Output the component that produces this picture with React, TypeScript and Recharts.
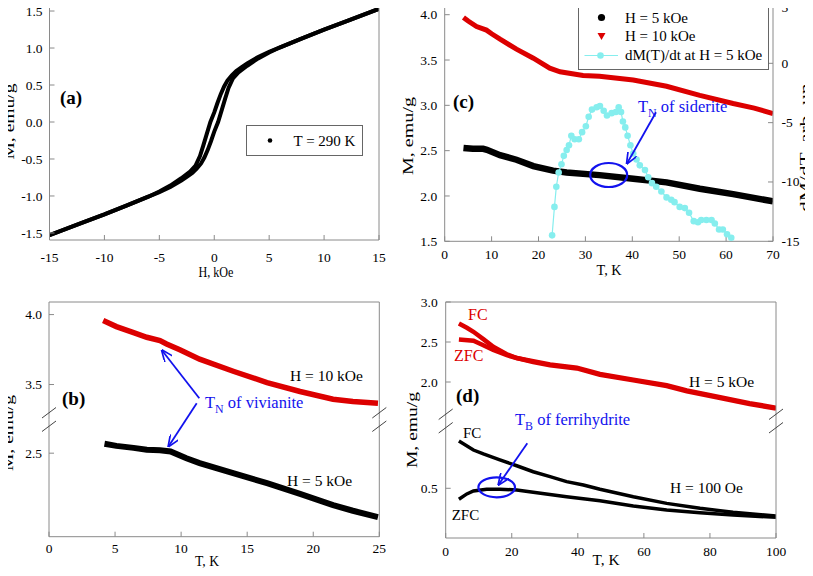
import React from 'react';
import { LineChart, Line, XAxis, YAxis, Legend, Label } from 'recharts';

const FONT = "'Liberation Serif', 'Times New Roman', Times, 'DejaVu Serif', serif";
const GRAY = '#8a8a8a';
const RED = '#dc0000';
const CYAN = '#86eeee';
const BLUE = '#1212ee';

// (a) hysteresis loop, T = 290 K
const loopDownH = [15, 12, 10, 8, 6, 5, 4, 3, 2.5, 2, 1.6, 1.2, 0.9, 0.6, 0.3, 0, -0.35, -0.7, -1.0, -1.3, -1.7, -2.2, -3, -4, -5, -6, -8, -10, -12, -15];
const loopDownM = [1.53, 1.36, 1.25, 1.13, 1.01, 0.95, 0.88, 0.79, 0.74, 0.69, 0.63, 0.56, 0.48, 0.38, 0.26, 0.13, 0, -0.17, -0.32, -0.46, -0.59, -0.67, -0.76, -0.86, -0.94, -1.01, -1.13, -1.25, -1.36, -1.53];
const loopUpH = [-15, -12, -10, -8, -6, -5, -4, -3, -2.5, -2, -1.6, -1.2, -0.9, -0.6, -0.3, 0, 0.35, 0.7, 1.0, 1.3, 1.7, 2.2, 3, 4, 5, 6, 8, 10, 12, 15];
const loopUpM = [-1.53, -1.36, -1.25, -1.13, -1.01, -0.95, -0.88, -0.79, -0.74, -0.69, -0.63, -0.56, -0.48, -0.38, -0.26, -0.13, 0, 0.17, 0.32, 0.46, 0.59, 0.67, 0.76, 0.86, 0.94, 1.01, 1.13, 1.25, 1.36, 1.53];
const hTicks = [-15, -10, -5, 0, 5, 10, 15];
const mTicksA = [-1.5, -1.0, -0.5, 0, 0.5, 1.0, 1.5];

// (b) M(T) up to 25 K
const b10T = [4.1, 5.1, 6.4, 7.4, 8.4, 8.9, 9.9, 11.4, 14.0, 16.5, 19.0, 21.5, 23.0, 24.9];
const b10M = [3.957, 3.914, 3.871, 3.838, 3.814, 3.79, 3.748, 3.681, 3.593, 3.514, 3.45, 3.395, 3.379, 3.367];
const b5T = [4.2, 5.1, 6.4, 7.4, 8.4, 9.2, 10.4, 11.4, 14.0, 16.5, 19.0, 21.5, 23.0, 24.9];
const b5M = [2.567, 2.552, 2.538, 2.524, 2.521, 2.512, 2.464, 2.429, 2.357, 2.286, 2.21, 2.13, 2.09, 2.045];
const bTicksX = [0, 5, 10, 15, 20, 25];

// (c) M(T) up to 70 K and derivative
const c10T = [4, 5, 6.8, 8.9, 10, 11.8, 15.3, 18.9, 22.4, 24.6, 29.5, 33, 40.2, 47.3, 54.4, 61.5, 66, 70];
const c10M = [3.97, 3.93, 3.87, 3.83, 3.79, 3.73, 3.62, 3.52, 3.41, 3.37, 3.33, 3.32, 3.28, 3.21, 3.11, 3.02, 2.97, 2.91];
const c5T = [4, 6, 8.2, 9, 11.8, 15.3, 18.9, 23.1, 26, 33, 40.2, 47.3, 54.4, 61.5, 70];
const c5M = [2.53, 2.52, 2.52, 2.51, 2.45, 2.4, 2.33, 2.28, 2.26, 2.23, 2.19, 2.15, 2.08, 2.02, 1.94];
const dT = [22.9, 23.4, 23.8, 24.3, 24.9, 25.4, 26.0, 26.5, 27.0, 27.7, 28.6, 29.3, 30.1, 30.7, 31.4, 32.4, 33.1, 33.9, 34.6, 35.6, 36.5, 37.1, 37.6, 38.0, 38.5, 39.0, 39.6, 40.2, 40.9, 41.6, 42.7, 43.4, 44.2, 45.1, 46.2, 47.3, 48.3, 49.0, 50.1, 51.2, 52.1, 53.1, 54.0, 54.7, 55.8, 56.9, 57.6, 58.5, 59.3, 60.2, 61.1];
const dM = [-14.5, -12.1, -10.4, -9.2, -8.5, -7.8, -7.3, -6.9, -6.1, -6.4, -6.4, -5.8, -5.3, -4.5, -3.9, -3.7, -3.6, -4.0, -4.4, -4.2, -4.1, -3.7, -4.1, -4.9, -5.4, -6.1, -6.9, -7.6, -8.1, -8.6, -9.0, -9.6, -10.1, -10.4, -10.8, -11.3, -11.5, -11.7, -12.1, -12.2, -12.6, -13.3, -13.4, -13.2, -13.2, -13.2, -13.5, -14.0, -14.0, -14.4, -14.7];
const cTicksX = [0, 10, 20, 30, 40, 50, 60, 70];
const cTicksL = [1.5, 2.0, 2.5, 3.0, 3.5, 4.0];
const cTicksR = [-15, -10, -5, 0, 5];

// (d) FC / ZFC up to 100 K
const dRedFcT = [4.0, 6.4, 8.4, 11.4, 14.4, 18.5, 21.5, 26.5, 31.6, 39.7, 46.7, 56.8, 66.9, 73.0, 82.0, 92.0, 100];
const dRedFcM = [2.732, 2.678, 2.628, 2.536, 2.44, 2.347, 2.3, 2.26, 2.22, 2.18, 2.1, 2.03, 1.96, 1.895, 1.82, 1.736, 1.678];
const dRedZfcT = [4.0, 8.4, 11.4, 14.4, 18.5, 21.5, 26.5, 31.6, 39.7, 46.7, 56.8, 66.9, 73.0, 82.0, 92.0, 100];
const dRedZfcM = [2.53, 2.515, 2.46, 2.4, 2.335, 2.3, 2.25, 2.21, 2.17, 2.09, 2.02, 1.95, 1.885, 1.81, 1.726, 1.668];
const dBlkFcT = [4.0, 8.4, 11.4, 16.4, 21.5, 26.5, 31.6, 36.6, 41.7, 46.7, 56.8, 66.9, 77, 87, 100];
const dBlkFcM = [0.785, 0.731, 0.707, 0.671, 0.636, 0.6, 0.57, 0.54, 0.52, 0.494, 0.449, 0.409, 0.379, 0.355, 0.333];
const dBlkZfcT = [4.0, 6.4, 8.4, 12.4, 16.4, 21.5, 26.5, 36.6, 46.7, 56.8, 66.9, 77, 87, 100];
const dBlkZfcM = [0.434, 0.466, 0.484, 0.494, 0.494, 0.49, 0.476, 0.449, 0.425, 0.393, 0.369, 0.353, 0.339, 0.325];
const dTicksX = [0, 20, 40, 60, 80, 100];

const zip = (xs: number[], ys: number[]) => xs.map((x, i) => ({ x, y: ys[i] }));
const f1 = (v: number) => v.toFixed(1);

const tickStyle = { fontSize: 13.5, fill: '#000', fontFamily: FONT };
const ax = { stroke: GRAY, strokeWidth: 1 };

// the source figure is stretched vertically, so titles get an explicit length.
// bx is the x of the (rotated) baseline, glyphs sit to its left
const vTitle = (text: string, bx: number, cy: number, len: number) => () => (
  <text x={0} y={0} transform={`translate(${bx} ${cy}) rotate(-90)`} textAnchor="middle"
    fontSize={15} fill="#000" fontFamily={FONT} textLength={len} lengthAdjust="spacingAndGlyphs">{text}</text>
);
const hTitle = (text: string, cx: number, baseline: number, len: number) => () => (
  <text x={cx} y={baseline} textAnchor="middle" fontSize={15} fill="#000" fontFamily={FONT}
    textLength={len} lengthAdjust="spacingAndGlyphs">{text}</text>
);

// right-hand tick labels of (c); the top one is kept inside the picture
const RightTick = (props: any) => {
  const { x, y, payload } = props;
  return (
    <text x={x} y={Math.max(y + 4.5, 11.5)} textAnchor="start" fontSize={13.5} fill="#000" fontFamily={FONT}>
      {payload.value}
    </text>
  );
};

const LegendA = () => (
  <div style={{ width: 117, height: 31, border: '1px solid #666', boxSizing: 'border-box', background: '#fff', position: 'relative' }}>
    <svg width={115} height={29} style={{ position: 'absolute', left: 0, top: 0 }}>
      <circle cx={23} cy={14.5} r={2.3} fill="#000" />
      <text x={46.5} y={19.5} fontSize={15} fontFamily={FONT} fill="#000">T = 290 K</text>
    </svg>
  </div>
);

const LegendC = () => (
  <div style={{ width: 191, height: 67, border: '1px solid #666', boxSizing: 'border-box', background: '#fff', position: 'relative' }}>
    <svg width={189} height={65} style={{ position: 'absolute', left: 0, top: 0 }}>
      <circle cx={22.5} cy={13.5} r={3.6} fill="#000" />
      <path d="M18.5,29 L26.5,29 L22.5,36 Z" fill={RED} />
      <line x1={5.5} x2={39} y1={51.5} y2={51.5} stroke={CYAN} strokeWidth={1.2} />
      <circle cx={21.5} cy={51.5} r={3.3} fill={CYAN} />
      <text x={46} y={18.5} fontSize={15} fontFamily={FONT} fill="#000">H = 5 kOe</text>
      <text x={46} y={37} fontSize={15} fontFamily={FONT} fill="#000">H = 10 kOe</text>
      <text x={46} y={56} fontSize={15} fontFamily={FONT} fill="#000">dM(T)/dt at H = 5 kOe</text>
    </svg>
  </div>
);

const PanelA = () => (
  <LineChart width={400} height={290} margin={{ top: 3, right: 20, bottom: 10, left: 0 }}>
    <XAxis xAxisId="b" type="number" dataKey="x" domain={[-15, 15]} ticks={hTicks} interval={0} allowDataOverflow
      height={40} axisLine={ax} tickLine={ax} tickSize={-5} tickMargin={17} tick={tickStyle}>
      <Label content={hTitle('H, kOe', 216, 277, 35)} />
    </XAxis>
    <XAxis xAxisId="t" orientation="top" type="number" dataKey="x" domain={[-15, 15]} ticks={hTicks} interval={0}
      allowDataOverflow height={1} axisLine={ax} tickLine={ax} tickSize={-5} tick={false} />
    <YAxis yAxisId="l" type="number" domain={[-1.595, 1.595]} ticks={mTicksA} interval={0} allowDataOverflow width={49.5}
      axisLine={ax} tickLine={ax} tickSize={-5} tickMargin={12} tick={tickStyle} tickFormatter={f1}>
      <Label content={vTitle('M, emu/g', 13.5, 121.5, 76)} />
    </YAxis>
    <YAxis yAxisId="r" orientation="right" type="number" domain={[-1.595, 1.595]} ticks={mTicksA} interval={0}
      allowDataOverflow width={1} axisLine={ax} tickLine={ax} tickSize={-5} tick={false} />
    <Line xAxisId="b" yAxisId="l" data={zip(loopDownH, loopDownM)} dataKey="y" name="T = 290 K" type="linear"
      stroke="#000" strokeWidth={4} dot={false} isAnimationActive={false} />
    <Line xAxisId="b" yAxisId="l" data={zip(loopUpH, loopUpM)} dataKey="y" name="T = 290 K up" type="linear"
      stroke="#000" strokeWidth={4} dot={false} isAnimationActive={false} legendType="none" />
    <Legend layout="horizontal" align="center" verticalAlign="middle" content={() => <LegendA />}
      wrapperStyle={{ left: 246, top: 125, width: 117 }} />
  </LineChart>
);

const PanelC = () => (
  <LineChart width={413} height={290} margin={{ top: 3, right: 0, bottom: 8.7, left: 0 }}>
    <XAxis xAxisId="b" type="number" dataKey="x" domain={[0, 70]} ticks={cTicksX} interval={0} allowDataOverflow
      height={40} axisLine={ax} tickLine={ax} tickSize={-5} tickMargin={13} tick={tickStyle}>
      <Label content={hTitle('T, K', 209, 275, 25)} />
    </XAxis>
    <XAxis xAxisId="t" orientation="top" type="number" dataKey="x" domain={[0, 70]} ticks={cTicksX} interval={0}
      allowDataOverflow height={1} axisLine={ax} tickLine={ax} tickSize={-5} tick={false} />
    <YAxis yAxisId="l" type="number" domain={[1.5, 4.118]} ticks={cTicksL} interval={0} allowDataOverflow width={44.7}
      axisLine={ax} tickLine={ax} tickSize={-5} tickMargin={12.5} tick={tickStyle} tickFormatter={f1}>
      <Label content={vTitle('M, emu/g', 12.5, 136, 78)} />
    </YAxis>
    <YAxis yAxisId="r" orientation="right" type="number" domain={[-15, 5]} ticks={cTicksR} interval={0} allowDataOverflow
      width={40} axisLine={ax} tickLine={ax} tickSize={-5} tickMargin={13.5} tick={<RightTick />}>
      <Label content={vTitle('dM/dT, arb. un.', 410, 145, 134)} />
    </YAxis>
    <Line xAxisId="b" yAxisId="l" data={zip(c10T, c10M)} dataKey="y" name="H = 10 kOe" type="linear"
      stroke={RED} strokeWidth={5} dot={false} isAnimationActive={false} />
    <Line xAxisId="b" yAxisId="l" data={zip(c5T, c5M)} dataKey="y" name="H = 5 kOe" type="linear"
      stroke="#000" strokeWidth={6.5} dot={false} isAnimationActive={false} />
    <Line xAxisId="b" yAxisId="r" data={zip(dT, dM)} dataKey="y" name="dM(T)/dt at H = 5 kOe" type="linear"
      stroke={CYAN} strokeWidth={1.2} dot={{ r: 3.3, fill: CYAN, stroke: 'none' }} isAnimationActive={false} />
    <Legend layout="horizontal" align="center" verticalAlign="middle" content={() => <LegendC />}
      wrapperStyle={{ left: 178.3, top: 2.7, width: 191 }} />
  </LineChart>
);

// (b): two stacked charts to make the broken M axis
const PanelBTop = () => (
  <LineChart width={400} height={286} margin={{ top: 11, right: 19.7, bottom: 156.5, left: 0 }}>
    <XAxis xAxisId="t" orientation="top" type="number" dataKey="x" domain={[0, 25]} ticks={bTicksX} interval={0}
      allowDataOverflow height={1} axisLine={ax} tickLine={ax} tickSize={-5} tick={false} />
    <YAxis yAxisId="l" type="number" domain={[3.25, 4.09]} ticks={[3.5, 4.0]} interval={0} allowDataOverflow width={49}
      axisLine={ax} tickLine={ax} tickSize={-5} tickMargin={12} tick={tickStyle} tickFormatter={f1} />
    <YAxis yAxisId="r" orientation="right" type="number" domain={[3.25, 4.09]} ticks={[3.5, 4.0]} interval={0}
      allowDataOverflow width={1} axisLine={ax} tickLine={ax} tickSize={-5} tick={false} />
    <Line xAxisId="t" yAxisId="l" data={zip(b10T, b10M)} dataKey="y" name="H = 10 kOe" type="linear"
      stroke={RED} strokeWidth={5.5} dot={false} isAnimationActive={false} />
  </LineChart>
);

const PanelBBottom = () => (
  <LineChart width={400} height={286} margin={{ top: 129.5, right: 19.7, bottom: 2.3, left: 0 }}>
    <XAxis xAxisId="b" type="number" dataKey="x" domain={[0, 25]} ticks={bTicksX} interval={0} allowDataOverflow
      height={37} axisLine={ax} tickLine={ax} tickSize={-5} tickMargin={12} tick={tickStyle}>
      <Label content={hTitle('T, K', 207, 276, 24)} />
    </XAxis>
    <YAxis yAxisId="l" type="number" domain={[1.905, 2.74]} ticks={[2.5]} interval={0} allowDataOverflow width={49}
      axisLine={ax} tickLine={ax} tickSize={-5} tickMargin={12} tick={tickStyle} tickFormatter={f1}>
      <Label content={vTitle('M, emu/g', 13, 143, 76)} />
    </YAxis>
    <YAxis yAxisId="r" orientation="right" type="number" domain={[1.905, 2.74]} ticks={[2.5]} interval={0}
      allowDataOverflow width={1} axisLine={ax} tickLine={ax} tickSize={-5} tick={false} />
    <Line xAxisId="b" yAxisId="l" data={zip(b5T, b5M)} dataKey="y" name="H = 5 kOe" type="linear"
      stroke="#000" strokeWidth={6} dot={false} isAnimationActive={false} />
  </LineChart>
);

// (d): same trick, 5 kOe on top, 100 Oe below
const PanelDTop = () => (
  <LineChart width={413} height={286} margin={{ top: 11, right: 36, bottom: 154, left: 0 }}>
    <XAxis xAxisId="t" orientation="top" type="number" dataKey="x" domain={[0, 100]} ticks={dTicksX} interval={0}
      allowDataOverflow height={1} axisLine={ax} tickLine={ax} tickSize={-5} tick={false} />
    <YAxis yAxisId="l" type="number" domain={[1.5, 3.0]} ticks={[2.0, 2.5, 3.0]} interval={0} allowDataOverflow width={45.7}
      axisLine={ax} tickLine={ax} tickSize={-5} tickMargin={13} tick={tickStyle} tickFormatter={f1} />
    <YAxis yAxisId="r" orientation="right" type="number" domain={[1.5, 3.0]} ticks={[2.0, 2.5, 3.0]} interval={0}
      allowDataOverflow width={1} axisLine={ax} tickLine={ax} tickSize={-5} tick={false} />
    <Line xAxisId="t" yAxisId="l" data={zip(dRedZfcT, dRedZfcM)} dataKey="y" name="ZFC 5 kOe" type="linear"
      stroke={RED} strokeWidth={4.5} dot={false} isAnimationActive={false} />
    <Line xAxisId="t" yAxisId="l" data={zip(dRedFcT, dRedFcM)} dataKey="y" name="FC 5 kOe" type="linear"
      stroke={RED} strokeWidth={4.5} dot={false} isAnimationActive={false} />
  </LineChart>
);

const PanelDBottom = () => (
  <LineChart width={413} height={286} margin={{ top: 132, right: 36, bottom: 2, left: 0 }}>
    <XAxis xAxisId="b" type="number" dataKey="x" domain={[0, 100]} ticks={dTicksX} interval={0} allowDataOverflow
      height={36} axisLine={ax} tickLine={ax} tickSize={-5} tickMargin={13.5} tick={tickStyle}>
      <Label content={hTitle('T, K', 206, 275, 27)} />
    </XAxis>
    <YAxis yAxisId="l" type="number" domain={[0.2, 0.9]} ticks={[0.5]} interval={0} allowDataOverflow width={45.7}
      axisLine={ax} tickLine={ax} tickSize={-5} tickMargin={13} tick={tickStyle} tickFormatter={f1}>
      <Label content={vTitle('M, emu/g', 17, 140, 76)} />
    </YAxis>
    <YAxis yAxisId="r" orientation="right" type="number" domain={[0.2, 0.9]} ticks={[0.5]} interval={0}
      allowDataOverflow width={1} axisLine={ax} tickLine={ax} tickSize={-5} tick={false} />
    <Line xAxisId="b" yAxisId="l" data={zip(dBlkZfcT, dBlkZfcM)} dataKey="y" name="ZFC 100 Oe" type="linear"
      stroke="#000" strokeWidth={3.5} dot={false} isAnimationActive={false} />
    <Line xAxisId="b" yAxisId="l" data={zip(dBlkFcT, dBlkFcM)} dataKey="y" name="FC 100 Oe" type="linear"
      stroke="#000" strokeWidth={3.5} dot={false} isAnimationActive={false} />
  </LineChart>
);

// axis break marks: two short parallel slashes across an axis line
const Break = ({ x, y }: { x: number; y: number }) => (
  <g stroke="#444" strokeWidth={1}>
    <line x1={x - 7} y1={y - 1.5} x2={x + 7} y2={y - 12} />
    <line x1={x - 7} y1={y + 12} x2={x + 7} y2={y + 1.5} />
  </g>
);

const Sub = ({ x, y, main, sub, rest, size = 16.5 }: { x: number; y: number; main: string; sub: string; rest: string; size?: number }) => (
  <text x={x} y={y} fontSize={size} fontFamily={FONT} fill={BLUE}>
    {main}
    <tspan dy={5} fontSize={size * 0.72}>{sub}</tspan>
    <tspan dy={-5}>{rest}</tspan>
  </text>
);

const txt = (x: number, y: number, s: string, color = '#000', size = 15.5) => (
  <text x={x} y={y} fontSize={size} fontFamily={FONT} fill={color}>{s}</text>
);

const Overlay = () => (
  <svg width={813} height={576} style={{ position: 'absolute', left: 0, top: 0, pointerEvents: 'none' }}>
    <defs>
      <marker id="ah" viewBox="0 0 12 10" refX={11.5} refY={5} markerWidth={12} markerHeight={10} orient="auto"
        markerUnits="userSpaceOnUse">
        <path d="M0,0 L12,5 L0,10" fill="none" stroke={BLUE} strokeWidth={1.7} />
      </marker>
    </defs>
    <text x={60} y={104} fontSize={19} fontWeight="bold" fontFamily={FONT}>(a)</text>
    <text x={62} y={405} fontSize={19} fontWeight="bold" fontFamily={FONT}>(b)</text>
    <text x={453} y={108} fontSize={19} fontWeight="bold" fontFamily={FONT}>(c)</text>
    <text x={456} y={401.5} fontSize={19} fontWeight="bold" fontFamily={FONT}>(d)</text>

    <Break x={49} y={419.5} />
    <Break x={379.3} y={419.5} />
    <Break x={445.7} y={421} />
    <Break x={776} y={421} />

    {txt(290, 381, 'H = 10 kOe')}
    {txt(287, 486, 'H = 5 kOe')}
    <Sub x={205} y={408} main="T" sub="N" rest=" of vivianite" />
    <g stroke={BLUE} strokeWidth={1.8} fill="none">
      <line x1={199.3} y1={398.3} x2={161.7} y2={350} markerEnd="url(#ah)" />
      <line x1={196.7} y1={403.3} x2={168.3} y2={446.7} markerEnd="url(#ah)" />
    </g>

    <Sub x={638} y={111.5} main="T" sub="N" rest=" of siderite" />
    <g stroke={BLUE} strokeWidth={1.8} fill="none">
      <line x1={656} y1={112.3} x2={626.7} y2={164} markerEnd="url(#ah)" />
      <ellipse cx={608.7} cy={175} rx={18.5} ry={12} strokeWidth={2.2} />
    </g>

    {txt(468, 319.5, 'FC', RED, 16)}
    {txt(454, 361, 'ZFC', RED, 16)}
    {txt(689, 386.5, 'H = 5 kOe')}
    {txt(463, 438.3, 'FC', '#000', 15)}
    {txt(451.7, 520, 'ZFC', '#000', 15)}
    {txt(670, 493.3, 'H = 100 Oe')}
    <Sub x={515} y={425} main="T" sub="B" rest=" of ferrihydrite" />
    <g stroke={BLUE} strokeWidth={1.8} fill="none">
      <line x1={527.3} y1={443.3} x2={498.3} y2={485} markerEnd="url(#ah)" />
      <ellipse cx={496.7} cy={487.3} rx={18.3} ry={10} strokeWidth={2.2} />
    </g>
  </svg>
);

const App = () => (
  <div style={{ position: 'relative', width: 813, height: 576, margin: -8, background: '#fff', fontFamily: FONT, overflow: 'hidden' }}>
    <div style={{ position: 'absolute', left: 0, top: 0 }}><PanelA /></div>
    <div style={{ position: 'absolute', left: 400, top: 0 }}><PanelC /></div>
    <div style={{ position: 'absolute', left: 0, top: 290 }}><PanelBTop /></div>
    <div style={{ position: 'absolute', left: 0, top: 290 }}><PanelBBottom /></div>
    <div style={{ position: 'absolute', left: 400, top: 290 }}><PanelDTop /></div>
    <div style={{ position: 'absolute', left: 400, top: 290 }}><PanelDBottom /></div>
    <Overlay />
  </div>
);

export default App;
